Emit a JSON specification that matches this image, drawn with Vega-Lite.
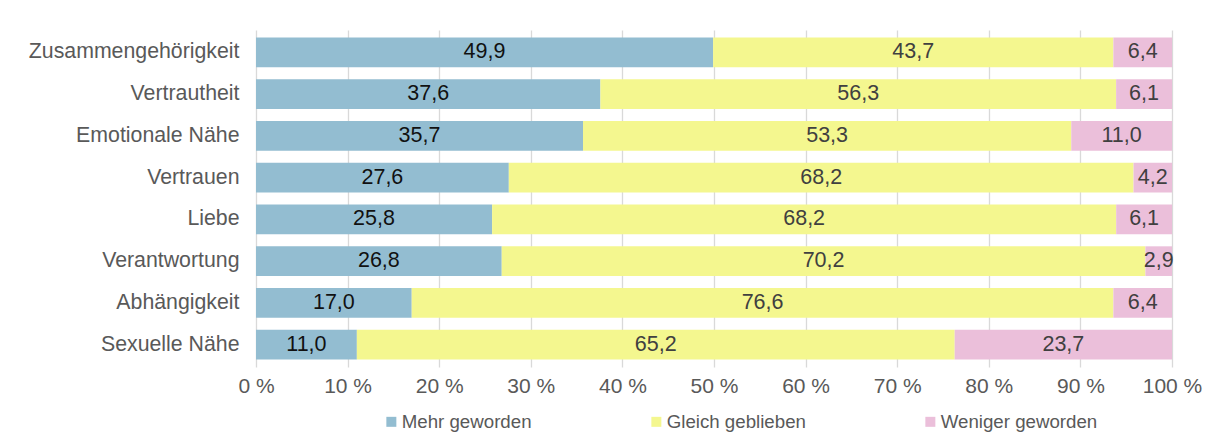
{
  "$schema": "https://vega.github.io/schema/vega-lite/v6.json",
  "width": 916,
  "height": 337,
  "autosize": "none",
  "padding": {"left": 256, "top": 30, "right": 40, "bottom": 68},
  "background": "white",
  "config": {
    "font": "Liberation Sans",
    "view": {"stroke": null},
    "locale": {"number": {"decimal": ",", "thousands": ".", "grouping": [3], "currency": ["", " €"]}}
  },
  "data": {
    "values": [
      {"item": "Zusammengehörigkeit", "cat": "Mehr geworden", "o": 1, "value": 49.9},
      {"item": "Zusammengehörigkeit", "cat": "Gleich geblieben", "o": 2, "value": 43.7},
      {"item": "Zusammengehörigkeit", "cat": "Weniger geworden", "o": 3, "value": 6.4},
      {"item": "Vertrautheit", "cat": "Mehr geworden", "o": 1, "value": 37.6},
      {"item": "Vertrautheit", "cat": "Gleich geblieben", "o": 2, "value": 56.3},
      {"item": "Vertrautheit", "cat": "Weniger geworden", "o": 3, "value": 6.1},
      {"item": "Emotionale Nähe", "cat": "Mehr geworden", "o": 1, "value": 35.7},
      {"item": "Emotionale Nähe", "cat": "Gleich geblieben", "o": 2, "value": 53.3},
      {"item": "Emotionale Nähe", "cat": "Weniger geworden", "o": 3, "value": 11.0},
      {"item": "Vertrauen", "cat": "Mehr geworden", "o": 1, "value": 27.6},
      {"item": "Vertrauen", "cat": "Gleich geblieben", "o": 2, "value": 68.2},
      {"item": "Vertrauen", "cat": "Weniger geworden", "o": 3, "value": 4.2},
      {"item": "Liebe", "cat": "Mehr geworden", "o": 1, "value": 25.8},
      {"item": "Liebe", "cat": "Gleich geblieben", "o": 2, "value": 68.2},
      {"item": "Liebe", "cat": "Weniger geworden", "o": 3, "value": 6.1},
      {"item": "Verantwortung", "cat": "Mehr geworden", "o": 1, "value": 26.8},
      {"item": "Verantwortung", "cat": "Gleich geblieben", "o": 2, "value": 70.2},
      {"item": "Verantwortung", "cat": "Weniger geworden", "o": 3, "value": 2.9},
      {"item": "Abhängigkeit", "cat": "Mehr geworden", "o": 1, "value": 17.0},
      {"item": "Abhängigkeit", "cat": "Gleich geblieben", "o": 2, "value": 76.6},
      {"item": "Abhängigkeit", "cat": "Weniger geworden", "o": 3, "value": 6.4},
      {"item": "Sexuelle Nähe", "cat": "Mehr geworden", "o": 1, "value": 11.0},
      {"item": "Sexuelle Nähe", "cat": "Gleich geblieben", "o": 2, "value": 65.2},
      {"item": "Sexuelle Nähe", "cat": "Weniger geworden", "o": 3, "value": 23.7}
    ]
  },
  "transform": [
    {"stack": "value", "groupby": ["item"], "sort": [{"field": "o", "order": "ascending"}], "as": ["x0", "x1"], "offset": "normalize"},
    {"calculate": "(datum.x0 + datum.x1) / 2 * 100", "as": "mid"},
    {"calculate": "datum.x0 * 100", "as": "s"},
    {"calculate": "datum.x1 * 100", "as": "e"}
  ],
  "encoding": {
    "y": {
      "field": "item",
      "type": "nominal",
      "sort": ["Zusammengehörigkeit", "Vertrautheit", "Emotionale Nähe", "Vertrauen", "Liebe", "Verantwortung", "Abhängigkeit", "Sexuelle Nähe"],
      "scale": {"paddingInner": 0.29, "paddingOuter": 0.18},
      "axis": {"title": null, "domain": false, "ticks": false, "labelFontSize": 21.3, "labelColor": "#595959", "labelPadding": 17, "labelLimit": 300}
    }
  },
  "layer": [
    {
      "mark": {"type": "bar"},
      "encoding": {
        "x": {
          "field": "s", "type": "quantitative",
          "scale": {"domain": [0, 100], "nice": false},
          "axis": {"title": null, "domain": false, "ticks": false, "values": [0,10,20,30,40,50,60,70,80,90,100], "labelExpr": "datum.value + ' %'", "labelFontSize": 21, "labelColor": "#595959", "labelPadding": 8, "grid": true, "gridColor": "#D9D9D9", "gridWidth": 1.3, "labelFlush": false}
        },
        "x2": {"field": "e"},
        "color": {
          "field": "cat", "type": "nominal",
          "sort": ["Mehr geworden", "Gleich geblieben", "Weniger geworden"],
          "scale": {"domain": ["Mehr geworden", "Gleich geblieben", "Weniger geworden"], "range": ["#93BDD1", "#F4F78F", "#EBBFDA"]},
          "legend": {
            "title": null, "orient": "none", "direction": "horizontal", "legendX": 126, "legendY": 382,
            "symbolType": "square", "symbolSize": 100, "symbolStrokeWidth": 0, "labelFontSize": 18.7, "labelColor": "#595959",
            "gridAlign": "each", "columnPadding": 115, "labelOffset": 1, "labelLimit": 300
          }
        }
      }
    },
    {
      "mark": {"type": "text", "fontSize": 21.5, "baseline": "middle", "align": "center"},
      "encoding": {
        "x": {"field": "mid", "type": "quantitative"},
        "text": {"field": "value", "type": "quantitative", "format": ".1f"},
        "color": {
          "condition": {"test": "datum.o == 1", "value": "#111111"},
          "value": "#404040"
        }
      }
    }
  ]
}
